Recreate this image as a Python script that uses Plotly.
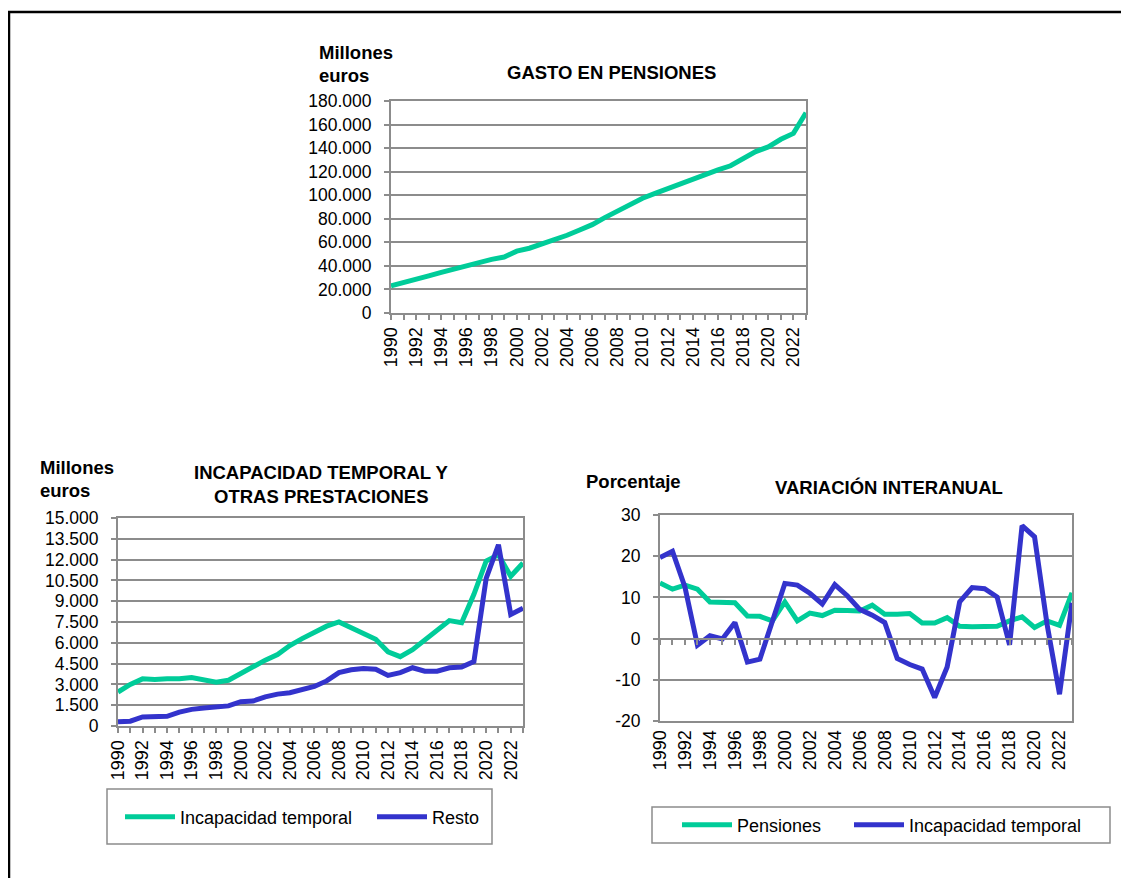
import plotly.graph_objects as go

# tamaño de la ventana; el body del html deja 8 px de margen
W, H = 1129, 886
M = 8
FW, FH = W - 2 * M, H - 2 * M

years = list(range(1990, 2024))

gasto_pensiones = [23000, 25500, 28000, 31500, 34500, 37500, 40500, 43000, 45500, 47500,
                   52500, 55000, 58500, 62000, 66000, 70500, 75000, 81000, 86500, 91500,
                   97500, 101500, 105500, 110500, 114500, 117500, 121500, 125000, 130500, 137000,
                   141000, 147500, 152500, 170000]

incapacidad_temporal = [2450, 3000, 3400, 3350, 3400, 3400, 3500, 3350, 3150, 3300,
                        3800, 4300, 4750, 5150, 5800, 6300, 6800, 7200, 7500, 7100,
                        6700, 6250, 5350, 5000, 5500, 6200, 6900, 7600, 7450, 9500,
                        11900, 12350, 10800, 11750]

resto = [300, 350, 650, 700, 700, 1000, 1200, 1300, 1350, 1450,
         1750, 1800, 2100, 2300, 2400, 2600, 2850, 3250, 3850, 4050,
         4150, 4100, 3650, 3850, 4200, 3950, 3950, 4200, 4250, 4650,
         10650, 13070, 8050, 8500]

var_pensiones = [13.5, 12.0, 13.0, 12.0, 8.9, 8.9, 8.7, 5.5, 5.4, 4.3,
                 8.9, 4.3, 6.2, 5.6, 6.9, 6.8, 6.7, 8.1, 5.9, 5.9,
                 6.1, 3.8, 3.8, 5.1, 3.0, 2.9, 2.9, 3.0, 4.3, 5.3,
                 2.7, 4.3, 3.2, 11.1]

var_incapacidad = [19.7, 21.2, 12.5, -1.6, 0.7, -0.1, 3.9, -5.7, -5.0, 4.0,
                   13.4, 13.0, 11.0, 8.4, 13.1, 10.4, 7.1, 5.7, 3.9, -4.8,
                   -6.3, -7.4, -14.3, -6.9, 8.9, 12.4, 12.1, 10.1, -1.5, 27.4,
                   24.7, 3.5, -13.5, 8.7]

var_ticks = [-20, -10, 0, 10, 20, 30]
var_labels = ["-20", "-10", "0", "10", "20", "30"]

VERDE = "#00cc99"
AZUL = "#3333cc"
GRIS = "#8c8c8c"
FUENTE = "Arial, Liberation Sans, sans-serif"


def px_x(x):
    return (x - M) / FW


def px_y(y):
    return 1 - (y - M) / FH


fig = go.Figure()

fig.add_trace(go.Scatter(x=years, y=gasto_pensiones, mode="lines", name="Gasto",
                         line=dict(color=VERDE, width=5), xaxis="x", yaxis="y",
                         showlegend=False))
fig.add_trace(go.Scatter(x=years, y=incapacidad_temporal, mode="lines",
                         name="Incapacidad temporal", line=dict(color=VERDE, width=5),
                         xaxis="x2", yaxis="y2", legend="legend"))
fig.add_trace(go.Scatter(x=years, y=resto, mode="lines", name="Resto",
                         line=dict(color=AZUL, width=5), xaxis="x2", yaxis="y2",
                         legend="legend2"))
fig.add_trace(go.Scatter(x=years, y=var_pensiones, mode="lines", name="Pensiones",
                         line=dict(color=VERDE, width=5), xaxis="x3", yaxis="y3",
                         legend="legend3"))
fig.add_trace(go.Scatter(x=years, y=var_incapacidad, mode="lines",
                         name="Incapacidad temporal", line=dict(color=AZUL, width=5),
                         xaxis="x3", yaxis="y3", legend="legend4"))
# trazo invisible para que exista el eje del cero
fig.add_trace(go.Scatter(x=[years[0], years[-1]], y=[0, 0], mode="lines", line=dict(width=0),
                         xaxis="x4", yaxis="y3", showlegend=False, hoverinfo="skip"))

# ejes comunes
eje_x = dict(range=[1990, 2023], tick0=1990, dtick=2, tickangle=-90,
             tickfont=dict(size=18, color="black"), showgrid=False,
             showline=True, linecolor=GRIS, linewidth=2, mirror=True,
             ticks="outside", ticklen=5, tickcolor=GRIS, tickwidth=1.5,
             minor=dict(dtick=1, ticks="outside", ticklen=5, tickcolor=GRIS, tickwidth=1.5),
             zeroline=False, automargin=False)
eje_y = dict(tickfont=dict(size=17.5, color="black"), showgrid=True, gridcolor=GRIS,
             gridwidth=1.5, showline=True, linecolor=GRIS, linewidth=2, mirror=True,
             ticks="outside", ticklen=5, tickcolor=GRIS, tickwidth=1.5,
             zeroline=False, tickformat=",d", ticklabelstandoff=9, automargin=False)

d1x = [px_x(391), px_x(806)]
d1y = [px_y(313), px_y(101)]
d2x = [px_x(118), px_x(523)]
d2y = [px_y(726), px_y(518)]
d3x = [px_x(660), px_x(1072)]
d3y = [px_y(721), px_y(515)]

caja = dict(type="rect", xref="paper", yref="paper", line=dict(color=GRIS, width=1.5))
leyenda = dict(orientation="h", xanchor="left", yanchor="middle", borderwidth=0,
               bgcolor="rgba(0,0,0,0)", font=dict(size=18), itemwidth=50)

fig.update_layout(
    width=FW, height=FH,
    margin=dict(l=0, r=0, t=0, b=0, autoexpand=False),
    paper_bgcolor="white", plot_bgcolor="white",
    font=dict(family=FUENTE, color="black"),
    separators=",.",
    xaxis=dict(eje_x, domain=d1x, anchor="y"),
    yaxis=dict(eje_y, domain=d1y, anchor="x", range=[0, 180000], dtick=20000),
    xaxis2=dict(eje_x, domain=d2x, anchor="y2"),
    yaxis2=dict(eje_y, domain=d2y, anchor="x2", range=[0, 15000], dtick=1500),
    xaxis3=dict(eje_x, domain=d3x, anchor="y3", ticks="", minor=dict(ticks="")),
    yaxis3=dict(eje_y, domain=d3y, anchor="x3", range=[-20, 30],
                tickvals=var_ticks, ticktext=var_labels),
    # eje a la altura del cero con marcas de graduación
    xaxis4=dict(range=[1990, 2023], overlaying="x3", anchor="free",
                position=d3y[0] + (d3y[1] - d3y[0]) * 0.4, domain=d3x,
                showticklabels=False, showgrid=False, showline=True, linecolor=GRIS,
                linewidth=2, ticks="outside", dtick=1, tick0=1990, ticklen=5,
                tickcolor=GRIS, tickwidth=1.5, zeroline=False, automargin=False),
    legend=dict(leyenda, x=px_x(120), y=px_y(817)),
    legend2=dict(leyenda, x=px_x(372), y=px_y(817)),
    legend3=dict(leyenda, x=px_x(677), y=px_y(825)),
    legend4=dict(leyenda, x=px_x(849), y=px_y(825)),
    shapes=[
        dict(type="rect", xref="paper", yref="paper", x0=px_x(9), x1=1.05,
             y0=-0.05, y1=px_y(12), line=dict(color="black", width=2.5)),
        dict(caja, x0=px_x(107), x1=px_x(492), y0=px_y(844), y1=px_y(789)),
        dict(caja, x0=px_x(652), x1=px_x(1110), y0=px_y(843), y1=px_y(807)),
    ],
)

textos = [
    ("Millones", 317, 53, "left"),
    ("euros", 317, 76, "left"),
    ("GASTO EN PENSIONES", 611, 73, "center"),
    ("Millones", 38, 467, "left"),
    ("euros", 38, 490, "left"),
    ("INCAPACIDAD TEMPORAL Y", 321, 473, "center"),
    ("OTRAS PRESTACIONES", 321, 496, "center"),
    ("Porcentaje", 584, 481, "left"),
    ("VARIACIÓN INTERANUAL", 889, 487, "center"),
]
for txt, x, y, anc in textos:
    fig.add_annotation(text="<b>" + txt + "</b>", xref="paper", yref="paper",
                       x=px_x(x), y=px_y(y), xanchor=anc, yanchor="middle",
                       showarrow=False, font=dict(size=18.5, family=FUENTE))

fig.write_html("out.html")
